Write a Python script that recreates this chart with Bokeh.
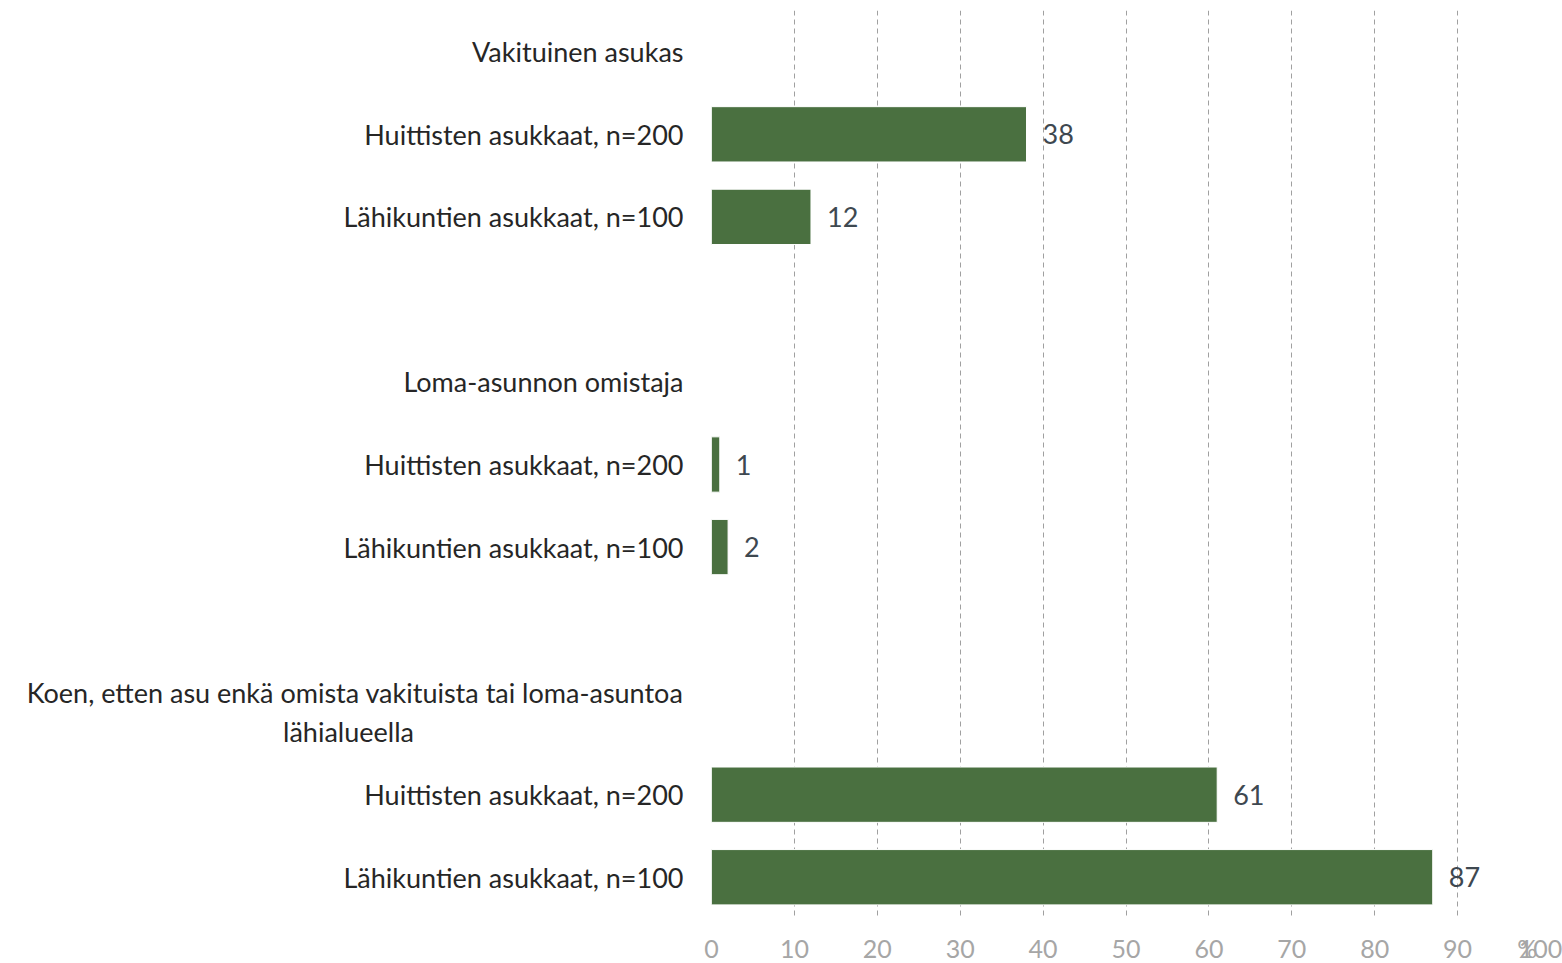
from bokeh.plotting import figure
from bokeh.models import Range1d, FixedTicker, ColumnDataSource
from bokeh.core.properties import value
from bokeh.embed import file_html
from bokeh.resources import INLINE

NBSP = "\u00a0"
categories = [
    "Vakituinen asukas",
    "Huittisten asukkaat, n=200",
    "Lähikuntien asukkaat, n=100",
    "",
    "Loma-asunnon omistaja",
    "Huittisten asukkaat, n=200",
    "Lähikuntien asukkaat, n=100",
    "",
    "Koen, etten asu enkä omista vakituista tai loma-asuntoa\nlähialueella" + NBSP * 39,
    "Huittisten asukkaat, n=200",
    "Lähikuntien asukkaat, n=100",
]
values = [None, 38, 12, None, None, 1, 2, None, None, 61, 87]
x_ticks = [0, 10, 20, 30, 40, 50, 60, 70, 80, 90, 100]
unit_label = "%"
UNIT_POS = 98.4  # where the unit label sits on the x axis

FONT = "Lato"
FS = "27px"
TICK_FS = "25px"
STANDOFF = 14

pos = [i + 0.5 for i in range(len(categories))]
bar_y = [p for p, v in zip(pos, values) if v is not None]
bar_v = [v for v in values if v is not None]
src = ColumnDataSource(dict(y=bar_y, v=bar_v, t=[str(v) for v in bar_v]))

p = figure(
    width=1562, height=963,
    frame_width=829, frame_height=908,
    min_border_left=711, min_border_right=22, min_border_top=10, min_border_bottom=45,
    x_range=Range1d(0, 100), y_range=Range1d(len(categories), 0),
    output_backend="svg", toolbar_location=None,
)
p.outline_line_color = None
p.background_fill_color = "white"
p.border_fill_color = "white"

p.hbar(y="y", right="v", left=0, height=0.67, source=src,
       fill_color="#4A7040", line_color="#ffffff", line_width=1)
p.text(x="v", y="y", text="t", source=src, x_offset=16,
       text_align="left", text_baseline="middle",
       text_font=value(FONT), text_font_size=FS, text_color="#3E4850")

# x axis (tick labels plus the unit label near 100)
p.xaxis.ticker = FixedTicker(ticks=x_ticks + [UNIT_POS])
p.xaxis.major_label_overrides = {UNIT_POS: unit_label}
p.xaxis.axis_line_color = None
p.xaxis.major_tick_line_color = None
p.xaxis.minor_tick_line_color = None
p.xaxis.major_tick_out = 0
p.xaxis.major_tick_in = 0
p.xaxis.major_label_standoff = STANDOFF
p.xaxis.major_label_text_font = FONT
p.xaxis.major_label_text_font_size = TICK_FS
p.xaxis.major_label_text_color = "#A6A6A6"

# y axis
p.yaxis.ticker = FixedTicker(ticks=pos)
p.yaxis.major_label_overrides = {pv: c for pv, c in zip(pos, categories)}
p.yaxis.axis_line_color = None
p.yaxis.major_tick_line_color = None
p.yaxis.minor_tick_line_color = None
p.yaxis.major_tick_out = 0
p.yaxis.major_tick_in = 0
p.yaxis.major_label_standoff = 28
p.yaxis.major_label_text_font = FONT
p.yaxis.major_label_text_font_size = FS
p.yaxis.major_label_text_color = "#262626"

p.xgrid.ticker = FixedTicker(ticks=x_ticks)
p.xgrid.grid_line_color = "#A0A0A0"
p.xgrid.grid_line_dash = "5 4"
p.xgrid.grid_line_width = 1
p.ygrid.grid_line_color = None

open("out.html", "w").write(file_html(p, INLINE))
